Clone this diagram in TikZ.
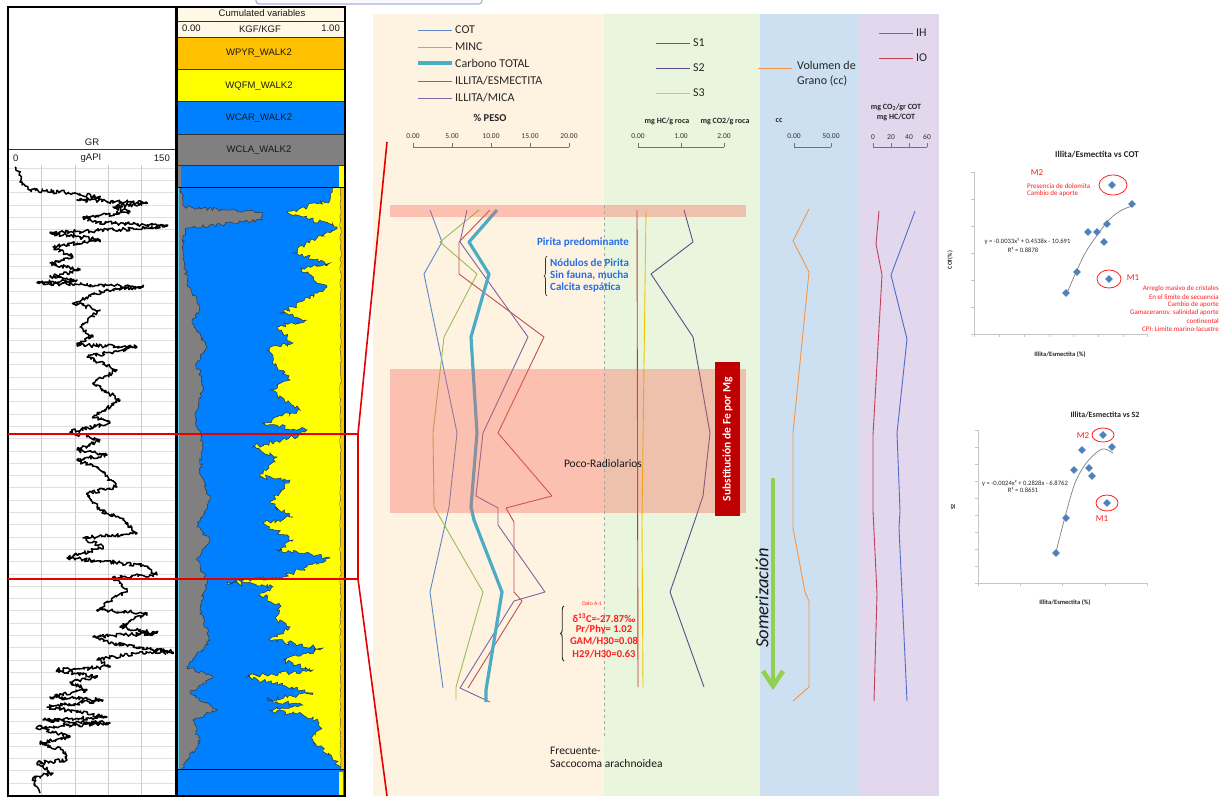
\documentclass[tikz,border=0pt]{standalone}
\usepackage{fontspec}
\setmainfont{Carlito}
\newfontfamily\logfont{Liberation Sans}
\usetikzlibrary{positioning,shapes.geometric,decorations.pathmorphing,decorations.pathreplacing}

\definecolor{peach}{RGB}{254,243,224}
\definecolor{mint}{RGB}{233,245,220}
\definecolor{sky}{RGB}{204,224,241}
\definecolor{lilac}{RGB}{226,215,236}
\definecolor{bandred}{RGB}{248,97,87}
\definecolor{cotblue}{RGB}{90,135,200}
\definecolor{mincgreen}{RGB}{155,187,89}
\definecolor{ctotal}{RGB}{75,172,198}
\definecolor{iered}{RGB}{192,80,77}
\definecolor{impurple}{RGB}{128,100,162}
\definecolor{sonered}{RGB}{190,55,55}
\definecolor{stwo}{RGB}{96,74,140}
\definecolor{sthree}{RGB}{245,196,0}
\definecolor{vgrano}{RGB}{247,150,70}
\definecolor{ihblue}{RGB}{80,110,200}
\definecolor{iored}{RGB}{192,64,90}
\definecolor{arrowgreen}{RGB}{146,208,80}
\definecolor{subred}{RGB}{192,0,0}
\definecolor{notblue}{RGB}{40,110,230}
\definecolor{notred}{RGB}{255,30,30}
\definecolor{logorange}{RGB}{255,192,0}
\definecolor{logyellow}{RGB}{255,255,0}
\definecolor{logblue}{RGB}{0,128,255}
\definecolor{loggrey}{RGB}{128,128,128}
\definecolor{logcream}{RGB}{255,248,231}
\definecolor{ptblue}{RGB}{79,129,189}
\definecolor{zoomred}{RGB}{230,0,0}
\definecolor{lavframe}{RGB}{175,175,228}

\newcommand{\fsz}[1]{\fontsize{#1}{#1}\selectfont}

\tikzset{
  logtxt/.style={inner sep=0pt, font=\logfont\fsz{9.5}, text=black!90},
  gridln/.style={gray!25, line width=0.8pt},
  lbl/.style={inner sep=0pt, font=\fsz{12}, text=black!85},
  unit/.style={inner sep=0pt, font=\bfseries\fsz{8}, text=black!85},
  ticklbl/.style={inner sep=0pt, font=\fsz{7.5}, text=black!80},
  axisln/.style={black!55, line width=0.6pt},
  curve/.style={line width=0.9pt, line join=round},
  band/.style={fill=bandred, opacity=0.35},
  bluenote/.style={inner sep=0pt, font=\bfseries\fsz{11}, text=notblue},
  rednote/.style={inner sep=0pt, font=\bfseries\fsz{10.5}, text=notred},
  plaintxt/.style={inner sep=0pt, font=\fsz{11.5}, text=black!90},
  chartax/.style={gray!45, line width=0.7pt},
  diam/.style={diamond, fill=ptblue, inner sep=0pt, minimum width=8pt, minimum height=8pt},
  ring/.style={ellipse, draw=notred, line width=0.8pt, inner sep=0pt},
  charttxt/.style={inner sep=0pt, font=\fsz{7}, text=notred},
  jag/.style={decorate, decoration={random steps, segment length=2.5pt, amplitude=2.5pt}}
}

\begin{document}
\begin{tikzpicture}[x=1pt, y=-1pt]
\pgfmathsetseed{7}
\useasboundingbox (0,0) rectangle (1223,796);
\fill[white] (0,0) rectangle (1223,796);

\filldraw[draw=lavframe, fill=white!95!lavframe, line width=1.2pt, rounded corners=3pt] (256,-8) -- (256,4) -- (482,4) -- (482,-8);

% GR track
\foreach \gy in {168,180.3,...,792}
  \draw[gridln] (9,\gy) -- (175,\gy);
\foreach \gx in {41,75,108,141}
  \draw[gray!40, line width=1pt] (\gx,165) -- (\gx,796);
\node[logtxt] (grname) at (92,142) {GR};
\node[logtxt, anchor=west] (grlo) at (13,158) {0};
\node[logtxt] (grunit) at (91,158) {gAPI};
\node[logtxt, anchor=east] (grhi) at (170,158) {150};
\draw[black!80] (8,149) -- (176,149);
\begin{scope}
  \clip (9,165) rectangle (175,795);
  \draw[black, line width=1.5pt, line join=round, decorate, decoration={random steps, segment length=1.4pt, amplitude=2pt}]
    (15,167) -- (20,175) -- (22,185) -- (30,190) -- (73,193) -- (100,197) -- (77,200) -- (147,203) -- (113,207)
    -- (130,212) -- (83,217) -- (93,222) -- (167,226) -- (147,228) -- (50,233) -- (100,240) -- (53,247) -- (73,257)
    -- (50,263) -- (80,270) -- (50,277) -- (77,280) -- (37,283) -- (143,287) -- (107,290) -- (73,303) -- (100,310)
    -- (80,327) -- (93,337) -- (77,345) -- (137,347) -- (87,357) -- (117,370) -- (93,383) -- (120,400) -- (93,417)
    -- (110,423) -- (70,432) -- (100,440) -- (77,450) -- (107,455) -- (77,460) -- (100,470) -- (117,487) -- (87,493)
    -- (100,510) -- (123,520) -- (137,533) -- (83,538) -- (103,547) -- (67,558) -- (143,565) -- (157,575) -- (113,577)
    -- (127,590) -- (97,610) -- (147,613) -- (120,627) -- (157,633) -- (93,637) -- (113,643) -- (173,652) -- (137,653)
    -- (97,660) -- (110,667) -- (57,670) -- (97,677) -- (70,682) -- (87,690) -- (50,697) -- (103,700) -- (47,707)
    -- (107,717) -- (43,720) -- (110,723) -- (37,727) -- (70,737) -- (40,743) -- (63,750) -- (67,760) -- (37,763)
    -- (53,773) -- (33,778) -- (40,793);
\end{scope}
\draw[black, line width=1.2pt] (8,7) rectangle (176,796);

% cumulated variables track
\fill[logcream] (177,7) rectangle (345,37);
\fill[logorange] (177,37) rectangle (345,69);
\fill[logyellow] (177,69) rectangle (345,101);
\fill[logblue] (177,101) rectangle (345,134);
\fill[loggrey] (177,134) rectangle (345,165);
\foreach \hy in {21,37,69,101,134,165}
  \draw[black!80, line width=0.8pt] (177,\hy) -- (345,\hy);
\node[logtxt] (cumhdr) at (262,13.5) {Cumulated variables};
\node[logtxt, anchor=west] (cumlo) at (182,28.5) {0.00};
\node[logtxt] (cumunit) at (260,29.5) {KGF/KGF};
\node[logtxt, anchor=east] (cumhi) at (340,28.5) {1.00};
\node[logtxt] (wpyr) at (259,53) {WPYR\_WALK2};
\node[logtxt] (wqfm) at (259,86) {WQFM\_WALK2};
\node[logtxt] (wcar) at (259,118) {WCAR\_WALK2};
\node[logtxt] (wcla) at (259,150) {WCLA\_WALK2};

\fill[logblue] (178,166) rectangle (344,187);
\fill[logyellow] (339,166) rectangle (344,187);
\fill[loggrey] (178,166) rectangle (181,187);
\begin{scope}
  \clip (178,187) rectangle (341,769);
  \fill[logyellow] (178,187) rectangle (341,769);
  \filldraw[fill=logblue, draw=black!80, line width=0.5pt, jag]
    (170,180) -- (333,180) -- (333,188) -- (330,200) -- (287,212) -- (337,227) -- (317,238) -- (293,253) -- (330,263)
    -- (300,268) -- (327,287) -- (293,307) -- (280,313) -- (307,320) -- (277,327) -- (293,343) -- (267,350) -- (277,367)
    -- (290,380) -- (270,390) -- (300,410) -- (263,423) -- (307,430) -- (293,437) -- (253,447) -- (277,457) -- (260,477)
    -- (290,480) -- (270,503) -- (293,517) -- (263,523) -- (293,540) -- (277,550) -- (330,558) -- (300,570) -- (283,577)
    -- (227,582) -- (273,587) -- (260,593) -- (280,607) -- (277,620) -- (290,627) -- (270,640) -- (323,648) -- (283,660)
    -- (313,670) -- (247,677) -- (313,693) -- (267,700) -- (303,705) -- (270,710) -- (313,717) -- (320,727) -- (313,740)
    -- (333,760) -- (342,768) -- (342,776) -- (170,776) -- cycle;
  \filldraw[fill=loggrey, draw=black!80, line width=0.5pt, decorate, decoration={random steps, segment length=2.5pt, amplitude=1.8pt}]
    (170,180) -- (180,180) -- (180,188) -- (185,207) -- (263,213) -- (262,220) -- (187,228) -- (183,237) -- (187,283)
    -- (200,307) -- (192,323) -- (207,347) -- (197,363) -- (203,390) -- (195,417) -- (203,443) -- (200,470) -- (210,500)
    -- (197,527) -- (210,540) -- (197,560) -- (207,580) -- (200,610) -- (210,640) -- (187,667) -- (213,677) -- (190,693)
    -- (217,710) -- (193,720) -- (200,743) -- (187,760) -- (182,768) -- (182,776) -- (170,776) -- cycle;
\end{scope}
\fill[logorange] (341,187) rectangle (344,769);
\draw[black!70, line width=0.5pt, decorate, decoration={random steps, segment length=3pt, amplitude=0.7pt}] (340.5,187) -- (340.5,769);
\draw[cyan!60, line width=0.8pt] (178,187) -- (178,769);
\fill[logblue] (178,770) rectangle (344,796);
\fill[logyellow] (339,772) rectangle (343,796);
\draw[black, line width=1pt] (177,187) -- (345,187);
\draw[black, line width=1pt] (177,769.5) -- (345,769.5);
\draw[black, line width=1.5pt] (177,7) rectangle (345,796);

% panel backgrounds
\fill[peach] (373,14) rectangle (604,796);
\fill[mint] (604,14) rectangle (760,796);
\fill[sky] (760,14) rectangle (859,796);
\fill[lilac] (859,14) rectangle (939,796);

% zoom lines
\coordinate (zta) at (8,434);
\coordinate (ztb) at (358,434);
\coordinate (zba) at (8,579);
\coordinate (zbb) at (358,579);
\coordinate (zup) at (387,142);
\coordinate (zdown) at (387,796);
\draw[zoomred, line width=1.6pt] (zta) -- (ztb) -- (zbb) -- (zba);
\draw[zoomred, line width=1.6pt] (ztb) -- (zup);
\draw[zoomred, line width=1.6pt] (zbb) -- (zdown);

% legends
\coordinate (cota) at (418,30);  \coordinate (cotb) at (452,30);
\coordinate (minca) at (418,47); \coordinate (mincb) at (452,47);
\coordinate (ctota) at (418,63); \coordinate (ctotb) at (452,63);
\coordinate (iea) at (418,81);   \coordinate (ieb) at (452,81);
\coordinate (ima) at (418,98);   \coordinate (imb) at (452,98);
\draw[curve, cotblue] (cota) -- (cotb);
\draw[curve, mincgreen] (minca) -- (mincb);
\draw[ctotal, line width=3.2pt] (ctota) -- (ctotb);
\draw[curve, iered] (iea) -- (ieb);
\draw[curve, impurple] (ima) -- (imb);
\node[lbl, right=3pt of cotb] (lcot) {COT};
\node[lbl, right=3pt of mincb] (lminc) {MINC};
\node[lbl, right=3pt of ctotb] (lctot) {Carbono TOTAL};
\node[lbl, right=3pt of ieb] (lie) {ILLITA/ESMECTITA};
\node[lbl, right=3pt of imb] (lim) {ILLITA/MICA};

\coordinate (sonea) at (656,43);   \coordinate (soneb) at (690,43);
\coordinate (stwoa) at (656,68);   \coordinate (stwob) at (690,68);
\coordinate (sthreea) at (656,93); \coordinate (sthreeb) at (690,93);
\draw[curve, sonered] (sonea) -- (soneb);
\draw[curve, stwo] (stwoa) -- (stwob);
\draw[curve, sthree] (sthreea) -- (sthreeb);
\node[lbl, right=3pt of soneb] (lsone) {S1};
\node[lbl, right=3pt of stwob] (lstwo) {S2};
\node[lbl, right=3pt of sthreeb] (lsthree) {S3};

\coordinate (vga) at (758,68); \coordinate (vgb) at (792,68);
\draw[curve, vgrano] (vga) -- (vgb);
\node[lbl, anchor=north west, align=left, font=\fontsize{12}{15}\selectfont] (lvg) at (797,61) {Volumen de\\Grano (cc)};

\coordinate (iha) at (879,33); \coordinate (ihb) at (913,33);
\coordinate (ioa) at (879,58); \coordinate (iob) at (913,58);
\draw[curve, ihblue] (iha) -- (ihb);
\draw[curve, iored] (ioa) -- (iob);
\node[lbl, right=3pt of ihb] (lih) {IH};
\node[lbl, right=3pt of iob] (lio) {IO};

% axes
\node[unit, font=\bfseries\fsz{10.5}] (peso) at (490,118) {\% PESO};
\draw[axisln] (413,147) -- (569,147);
\foreach \tx/\tl in {413/0.00, 452/5.00, 491/10.00, 530/15.00, 569/20.00} {
  \draw[axisln] (\tx,143) -- (\tx,147);
  \node[ticklbl] (peso\tx) at (\tx,136) {\tl};
}
\node[unit] (uhc) at (667,121) {mg HC/g roca};
\node[unit] (uco) at (725,121) {mg CO2/g roca};
\draw[axisln] (638,147) -- (724,147);
\foreach \tx/\tl in {638/0.00, 681/1.00, 724/2.00} {
  \draw[axisln] (\tx,143) -- (\tx,147);
  \node[ticklbl] (roca\tx) at (\tx,136) {\tl};
}
\node[unit] (ucc) at (779,121) {cc};
\draw[axisln] (794,147) -- (831,147);
\foreach \tx/\tl in {794/0.00, 831/50.00} {
  \draw[axisln] (\tx,143) -- (\tx,147);
  \node[ticklbl] (grano\tx) at (\tx,136) {\tl};
}
\node[unit] (uihio) at (896,107) {mg CO\textsubscript{2}/gr COT};
\node[unit] (uihb) at (896,117) {mg HC/COT};
\draw[axisln] (873,147) -- (927,147);
\foreach \tx/\tl in {873/0, 891/20, 909/40, 927/60} {
  \draw[axisln] (\tx,143) -- (\tx,147);
  \node[ticklbl] (ihio\tx) at (\tx,137) {\tl};
}

% curves
\draw[curve, cotblue] (430,210) -- (442,242) -- (424,274) -- (457,433) -- (449,507) -- (430,592) -- (443,688);
\draw[curve, mincgreen] (479,210) -- (440,242) -- (477,274) -- (444,337) -- (433,433) -- (434,507) -- (483,592) -- (456,687) -- (456,700);
\draw[curve, iered] (490,210) -- (459,242) -- (459,274) -- (544,337) -- (498,433) -- (552,496) -- (506,508) -- (514,522) -- (514,592) -- (522,601) -- (468,688);
\draw[curve, impurple] (467,210) -- (460,242) -- (528,337) -- (483,433) -- (476,496) -- (498,508) -- (498,525) -- (545,592) -- (514,601) -- (460,688) -- (490,702);
\draw[ctotal, line width=3.2pt, line join=round] (497,210) -- (469,242) -- (489,274) -- (471,337) -- (477,433) -- (471,507) -- (474,520) -- (502,592) -- (486,690) -- (486,702);
\draw[curve, sonered] (637,210) -- (638,687);
\draw[curve, sthree] (646,210) -- (642,520) -- (643,687);
\draw[curve, stwo] (684,210) -- (693,242) -- (651,274) -- (693,337) -- (710,433) -- (703,496) -- (695,520) -- (670,592) -- (704,687);
\draw[curve, vgrano] (809,209) -- (793,241) -- (809,272) -- (793,433) -- (793,528) -- (805,592) -- (809,601) -- (809,687) -- (793,701);
\draw[curve, iored] (879,211) -- (876,244) -- (882,275) -- (873,435) -- (873,511) -- (877,594) -- (874,701);
\draw[curve, ihblue] (915,211) -- (891,275) -- (907,339) -- (897,433) -- (900,511) -- (899,528) -- (907,701);

\fill[band] (390,205) rectangle (746,217);
\fill[band] (390,369) rectangle (746,513);
\draw[gray!70, dashed, line width=0.9pt] (604,205) -- (604,737);

% notes
\node[bluenote] (pirita) at (583,242) {Pirita predominante};
\draw[black!80, line width=0.7pt, decorate, decoration={brace, amplitude=3pt}] (547,296) -- (547,256);
\node[bluenote, anchor=west] (nodulos) at (550,263) {Nódulos de Pirita};
\node[bluenote, anchor=west] (fauna) at (550,275) {Sin fauna, mucha};
\node[bluenote, anchor=west] (calcita) at (550,287) {Calcita espática};
\node[plaintxt] (poco) at (603,464) {Poco-Radiolarios};
\node[rotate=90, fill=subred, text=white, font=\bfseries\fsz{11.5}, minimum width=154pt, minimum height=25pt, inner sep=0pt] (subfe) at (727.5,439) {Substitución de Fe por Mg};

\node[inner sep=0pt, font=\fsz{5.5}, text=notred] (dato) at (592,604) {Dato A-1};
\draw[black!85, line width=0.9pt, decorate, decoration={brace, amplitude=3.5pt}] (564,661) -- (564,606);
\node[rednote] (delta) at (604,618) {δ\textsuperscript{13}C=-27.87‰};
\node[rednote] (prphy) at (604,629.5) {Pr/Phy= 1.02};
\node[rednote] (gam) at (604,641.5) {GAM/H30=0.08};
\node[rednote] (hnueve) at (604,654) {H29/H30=0.63};
\node[plaintxt, anchor=west] (frec) at (550,751) {Frecuente-};
\node[plaintxt, anchor=west] (sacco) at (550,764) {Saccocoma arachnoidea};

\node[rotate=90, inner sep=0pt, font=\itshape\fsz{18.5}, text=black!90] (somer) at (762,598) {Somerización};
\coordinate (soma) at (773,478);
\coordinate (somb) at (773,684);
\draw[arrowgreen, line width=4pt] (soma) -- (somb);
\draw[arrowgreen, line width=4.5pt, line join=miter] (763,671) -- (773,686) -- (783,671);

% chart 1
\node[inner sep=0pt, font=\bfseries\fsz{9}, text=black!85] (ctitle) at (1097,155) {Illita/Esmectita vs COT};
\draw[chartax] (974,172) -- (974,334) -- (1147,334);
\foreach \ty in {172,199,226,253,280,307,334}
  \draw[chartax] (971,\ty) -- (974,\ty);
\foreach \tx in {974,999,1024,1049,1073,1098,1123,1147}
  \draw[chartax] (\tx,334) -- (\tx,337);
\node[rotate=90, inner sep=0pt, font=\bfseries\fsz{6}, text=black!85] (cylab) at (950,260) {COT(\%)};
\node[inner sep=0pt, font=\bfseries\fsz{6.5}, text=black!85] (cxlab) at (1060,355) {Illita/Esmectita (\%)};
\draw[gray, line width=0.7pt] plot[smooth] coordinates {(1067,293) (1077,270) (1087,250) (1107,222) (1120,211) (1132,206)};
\foreach \px/\py [count=\k] in {1112/185, 1132/204, 1107/224, 1088/232, 1097/232, 1104/242, 1077/272, 1109/279, 1066/293}
  \node[diam] (cot\k) at (\px,\py) {};
\node[inner sep=0pt, font=\fsz{6.6}, text=black!85] (ceq) at (1027.5,241) {y = -0.0033x² + 0.4538x - 10.691};
\node[inner sep=0pt, font=\fsz{6.6}, text=black!85] (crsq) at (1023,249.5) {R² = 0.8878};
\node[ring, minimum width=28pt, minimum height=20pt] (cmtwo) at (1113,185) {};
\node[ring, minimum width=24pt, minimum height=18pt] (cmone) at (1109,279) {};
\node[inner sep=0pt, font=\fsz{9}, text=notred] (lmtwo) at (1037,173) {M2};
\node[charttxt, anchor=west] (dolo) at (1027,186) {Presencia de dolomita};
\node[charttxt, anchor=west] (aporte) at (1027,194) {Cambio de aporte};
\node[inner sep=0pt, font=\fsz{9}, text=notred] (lmone) at (1133,278) {M1};
\node[charttxt, anchor=east] (arreglo) at (1219,289) {Arreglo masivo de cristales};
\node[charttxt, anchor=east] (limite) at (1219,297) {En el limite de secuencia};
\node[charttxt, anchor=east] (cambio) at (1219,305) {Cambio de aporte};
\node[charttxt, anchor=east] (gama) at (1219,313) {Gamaceranos: salinidad aporte};
\node[charttxt, anchor=east] (conti) at (1219,321) {continental};
\node[charttxt, anchor=east] (cpi) at (1219,329.5) {CPI: Limite marino-lacustre};

% chart 2
\node[inner sep=0pt, font=\bfseries\fsz{8}, text=black!85] (stitle) at (1105,415) {Illita/Esmectita vs S2};
\draw[chartax] (978,430) -- (978,583) -- (1147,583);
\foreach \ty in {430,447,464,481,498,515,532,549,566,583}
  \draw[chartax] (975,\ty) -- (978,\ty);
\foreach \tx in {978,1020,1062,1105,1147}
  \draw[chartax] (\tx,583) -- (\tx,586);
\node[rotate=90, inner sep=0pt, font=\bfseries\fsz{6}, text=black!85] (sylab) at (953,507) {S2};
\node[inner sep=0pt, font=\bfseries\fsz{6.5}, text=black!85] (sxlab) at (1065,603) {Illita/Esmectita (\%)};
\draw[gray, line width=0.7pt] plot[smooth] coordinates {(1056,552) (1065,517) (1075,483) (1087,462) (1102,449) (1113,453)};
\foreach \px/\py [count=\k] in {1103/435, 1112/447, 1082/450, 1074/470, 1089/468, 1092/476, 1107/503, 1066/518, 1056/553}
  \node[diam] (stp\k) at (\px,\py) {};
\node[inner sep=0pt, font=\fsz{6.6}, text=black!85] (seq) at (1025,483) {y = -0.0024x² + 0.2828x - 6.8762};
\node[inner sep=0pt, font=\fsz{6.6}, text=black!85] (srsq) at (1023,490) {R² = 0.8651};
\node[ring, minimum width=22pt, minimum height=14pt] (smtwo) at (1103,435) {};
\node[ring, minimum width=22pt, minimum height=16pt] (smone) at (1107,503) {};
\node[inner sep=0pt, font=\fsz{9}, text=notred] (slmtwo) at (1083,436) {M2};
\node[inner sep=0pt, font=\fsz{9}, text=notred] (slmone) at (1102,519) {M1};
\end{tikzpicture}
\end{document}
